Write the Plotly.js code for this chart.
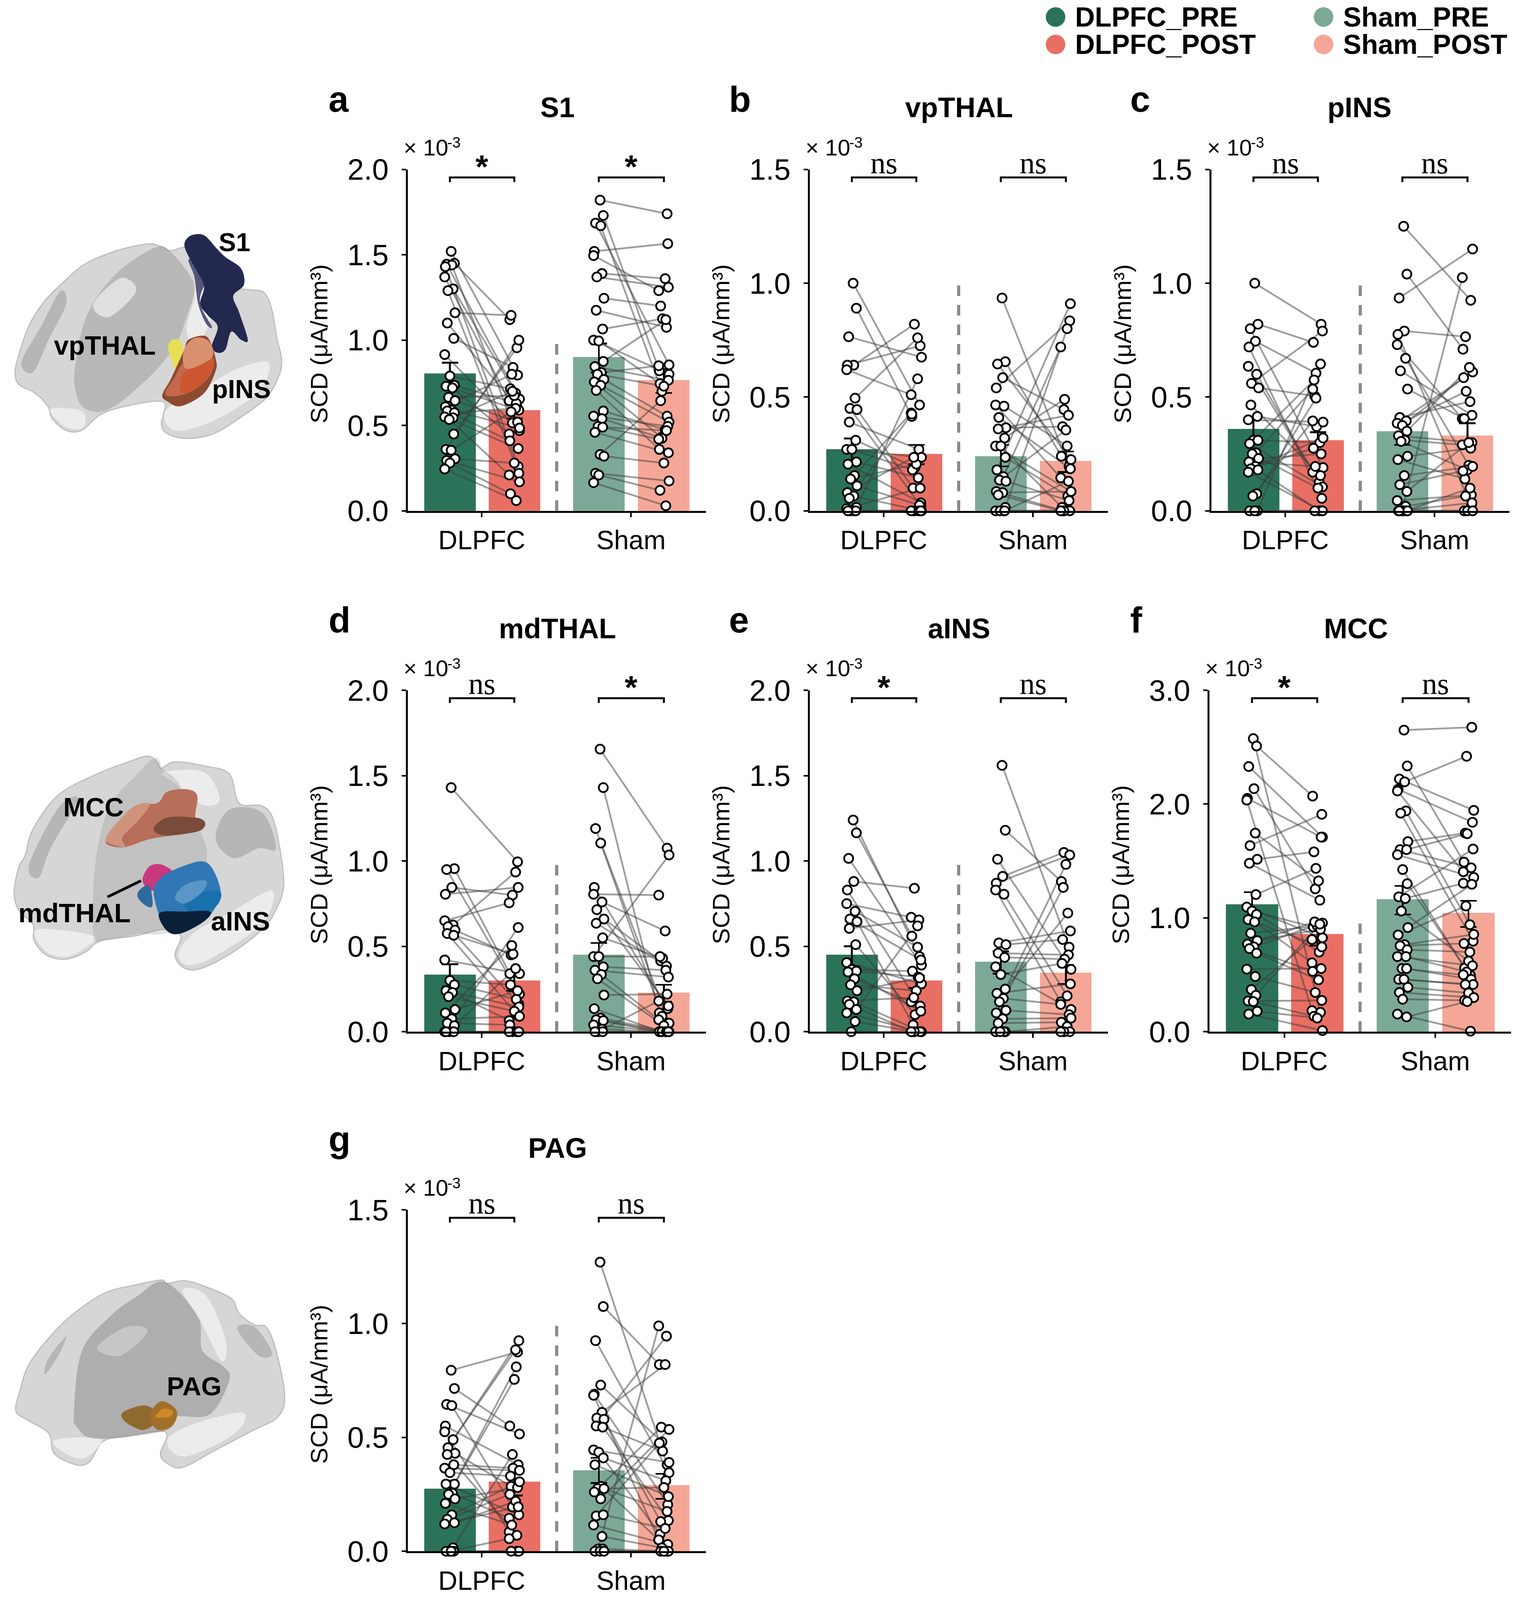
<!DOCTYPE html>
<html>
<head>
<meta charset="utf-8">
<script src="https://cdn.plot.ly/plotly-3.0.1.min.js"></script>
<style>html,body{margin:0;background:#fff;overflow:hidden}</style>
</head>
<body>
<div id="fig"></div>
<script>
// ---- panel labels ----
const panelIds = ['a', 'b', 'c', 'd', 'e', 'f', 'g'];
const panelTitles = ['S1', 'vpTHAL', 'pINS', 'mdTHAL', 'aINS', 'MCC', 'PAG'];
const panelYMax = [2, 1.5, 1.5, 2, 2, 3, 1.5];
const panelDtick = [0.5, 0.5, 0.5, 0.5, 0.5, 1, 0.5];
const sigDlpfc = ['*', 'ns', 'ns', 'ns', '*', '*', 'ns'];
const sigSham = ['*', 'ns', 'ns', '*', 'ns', 'ns', 'ns'];
const groupLabels = ['DLPFC', 'Sham'];
const legendLabels = ['DLPFC_PRE', 'DLPFC_POST', 'Sham_PRE', 'Sham_POST'];
const barColors = ['#2B7358', '#E96F65', '#7CA996', '#F5A797'];

// ---- bar heights, order: DLPFC pre, DLPFC post, Sham pre, Sham post ----
const means = [
  [0.805, 0.59, 0.90, 0.765],
  [0.27, 0.25, 0.24, 0.22],
  [0.36, 0.31, 0.35, 0.33],
  [0.335, 0.30, 0.45, 0.23],
  [0.45, 0.30, 0.41, 0.345],
  [1.12, 0.86, 1.165, 1.045],
  [0.275, 0.305, 0.355, 0.29]
];
const errTop = [
  [0.868, 0.64, 0.98, 0.83],
  [0.318, 0.29, 0.29, 0.26],
  [0.405, 0.345, 0.405, 0.385],
  [0.395, 0.35, 0.52, 0.275],
  [0.50, 0.33, 0.47, 0.39],
  [1.225, 0.945, 1.28, 1.15],
  [0.31, 0.34, 0.41, 0.34]
];
const errBottom = [
  [0.74, 0.54, 0.81, 0.69],
  [0.22, 0.205, 0.195, 0.17],
  [0.31, 0.26, 0.29, 0.275],
  [0.265, 0.24, 0.37, 0.175],
  [0.385, 0.255, 0.34, 0.28],
  [1.0, 0.755, 1.03, 0.92],
  [0.225, 0.245, 0.30, 0.23]
];

// ---- subject values (x10^-3), pre and post lined up by subject ----
const a_dlpfc_pre = [1.52,1.45,1.445,1.44,1.43,1.37,1.30,1.29,1.16,1.10,1.01,.915,.79,.735,.73,.72,.665,.645,.61,.59,.585,.575,.55,.545,.535,.45,.36,.355,.305,.295,.28,.245];
const a_dlpfc_post = [.795,1.12,.655,.515,.26,.645,.69,.22,1.145,.61,.84,.47,.715,.63,.59,.45,.675,.52,.80,.485,.41,.60,.365,.70,.21,.955,1.0,.58,.28,.17,.10,.06];
const a_sham_pre = [1.82,1.73,1.685,1.67,1.52,1.495,1.39,1.37,1.245,1.175,1.065,1.0,.995,.875,.845,.81,.80,.77,.755,.735,.705,.585,.555,.54,.495,.49,.46,.33,.32,.22,.21,.165];
const a_sham_post = [1.74,.82,.855,.70,1.565,1.29,1.36,1.31,1.2,1.075,1.125,.80,.745,1.12,.765,.85,.73,.555,.43,.52,.36,.475,.495,.425,.42,.47,.34,.645,.28,.175,.12,.03];

const b_dlpfc_pre = [1.0,.89,.765,.64,.64,.62,.495,.45,.445,.39,.31,.27,.27,.215,.205,.155,.14,.11,.08,.065,.055,.015,.01,0,0,0,0];
const b_dlpfc_post = [.465,.415,.675,.82,.725,.51,.76,.02,.10,.27,.19,.235,.18,.145,.035,.43,.205,.025,.235,0,.425,.58,.10,0,0,0,0];
const b_sham_pre = [.935,.655,.645,.585,.54,.465,.46,.41,.365,.36,.32,.285,.285,.235,.18,.15,.135,.13,.085,.08,.07,.015,0,0,0,0];
const b_sham_post = [.195,.24,.225,.445,.835,.145,.285,.185,.37,.42,.49,.085,.015,.065,.91,.72,.355,.045,0,.085,0,.80,0,0,0,.13];

const c_dlpfc_pre = [1.0,.82,.80,.745,.72,.635,.60,.56,.54,.465,.415,.40,.31,.31,.295,.255,.25,.23,.215,.195,.185,.18,.17,.075,.065,0,0,0];
const c_dlpfc_post = [.82,.74,.19,.605,.055,.17,.125,.79,.505,.155,.37,.39,.575,.30,.105,.535,.10,.25,.195,.32,.275,0,0,.495,.395,.645,0,0];
const c_sham_pre = [1.25,1.04,.935,.79,.775,.73,.67,.615,.535,.41,.395,.385,.375,.35,.33,.31,.305,.24,.225,.155,.115,.085,.045,.02,0,0,0,0,0,0];
const c_sham_post = [.925,.71,1.15,.765,.02,.405,.20,.42,.405,.48,.525,.61,.585,.63,.30,.29,.18,.275,.14,.195,.175,.30,.07,.065,1.025,.10,.035,0,0,0];

const d_dlpfc_pre = [1.43,.955,.95,.845,.805,.65,.625,.615,.595,.575,.565,.42,.30,.275,.24,.23,.205,.13,.11,.075,.05,.035,0,0,0,0,0];
const d_dlpfc_post = [.995,.34,.22,.80,.845,.755,.935,.16,.45,.10,.455,.34,.275,.19,.145,.065,.12,.24,.505,.09,.04,.37,.61,0,0,0,0];
const d_sham_pre = [1.655,1.43,1.19,1.105,.845,.805,.76,.715,.66,.635,.55,.44,.44,.38,.36,.335,.31,.215,.135,.08,.07,.065,.04,.015,0,0,0];
const d_sham_post = [1.075,.11,.05,.09,.135,.80,.59,.15,.415,.385,.43,1.035,.44,.36,.32,.07,.035,.22,0,0,0,0,0,0,.18,0,0];

const e_dlpfc_pre = [1.24,1.165,1.015,.88,.83,.75,.705,.66,.645,.605,.51,.405,.365,.355,.35,.31,.275,.24,.18,.175,.16,.13,.11,.06,0];
const e_dlpfc_post = [.44,.56,.39,.84,.15,.67,.495,.42,.04,.655,.10,.28,.355,.32,.12,.175,.24,.315,.20,0,0,.62,0,0,0];
const e_sham_pre = [1.56,1.18,1.01,.91,.87,.83,.805,.52,.51,.46,.435,.38,.335,.25,.225,.195,.175,.125,.11,.075,.05,0,0,0,0];
const e_sham_post = [.495,.88,.365,1.05,1.035,.175,.21,.59,.54,.45,.425,.13,.40,.695,.28,.16,.98,.10,.845,.08,.055,.03,0,0,0];

const f_dlpfc_pre = [2.575,2.51,2.33,2.135,2.05,2.035,1.745,1.635,1.515,1.48,1.205,1.095,1.06,1.03,.985,.965,.865,.80,.77,.745,.73,.69,.55,.485,.37,.32,.27,.265,.18,.155];
const f_dlpfc_post = [.17,2.07,1.71,1.255,1.71,.185,1.325,1.91,1.58,1.155,1.435,.825,.92,.70,.745,.605,.93,.90,.965,.955,.53,.455,.555,.345,.81,.945,.275,.135,.12,.01];
const f_sham_pre = [2.65,2.335,2.22,2.195,2.13,2.115,1.94,1.92,1.67,1.60,1.60,1.555,1.425,1.30,1.185,1.17,1.06,.915,.85,.765,.755,.72,.66,.66,.555,.555,.46,.46,.39,.345,.285,.155,.13];
const f_sham_post = [2.675,1.49,1.945,2.42,1.84,1.405,.94,.795,1.745,1.44,1.74,1.355,.56,.495,1.605,1.305,.62,1.295,1.105,.855,.775,.70,.58,.525,.50,.46,.415,.415,.34,.30,.275,.005,.265];

const g_dlpfc_pre = [.795,.715,.645,.64,.55,.525,.49,.455,.43,.425,.38,.365,.345,.295,.295,.255,.25,.23,.21,.16,.14,.125,.12,.015,0,0,0,0];
const g_dlpfc_post = [.875,.55,.515,.195,.38,.085,.885,.925,.285,.07,.365,.355,.33,.81,.16,.145,.755,.28,.115,.305,.25,.22,.195,.425,.055,0,0,0];
const g_sham_pre = [1.27,1.075,.925,.73,.69,.685,.61,.585,.58,.55,.545,.445,.435,.41,.38,.285,.275,.275,.26,.23,.155,.16,.115,.065,.01,.01,0,0,0];
const g_sham_post = [.38,.82,.345,.48,.205,.05,.82,.135,.13,.945,.44,.39,.075,.31,.24,.05,.28,.175,.545,.535,.475,.10,.03,.015,.99,0,0,0,0];

const subjects = [
  [a_dlpfc_pre, a_dlpfc_post, a_sham_pre, a_sham_post],
  [b_dlpfc_pre, b_dlpfc_post, b_sham_pre, b_sham_post],
  [c_dlpfc_pre, c_dlpfc_post, c_sham_pre, c_sham_post],
  [d_dlpfc_pre, d_dlpfc_post, d_sham_pre, d_sham_post],
  [e_dlpfc_pre, e_dlpfc_post, e_sham_pre, e_sham_post],
  [f_dlpfc_pre, f_dlpfc_post, f_sham_pre, f_sham_post],
  [g_dlpfc_pre, g_dlpfc_post, g_sham_pre, g_sham_post]
];

// sideways scatter of the dots round each bar centre
const jitterPre = [.02,.07,-.05,.03,-.07,-.08,.05,-.03,.08,-.04,.06,-.08,0,.07,-.06,.04,-.02,.08,-.07,.03,-.04,.07,-.08,.05,-.01,.06,-.06,.02,.08,-.05,0,-.08,.06,.03,-.03,.05];
const jitterPost = [.05,-.07,.08,-.03,.06,-.08,.02,.07,-.05,.04,-.02,.08,-.06,.03,.07,-.08,0,.05,-.04,.08,-.07,.02,.06,-.03,-.08,.04,.07,-.05,0,.08,-.06,.03,-.02,.05,-.07,.06];

// ---- page geometry: positions are in the reference's 3896x4789 frame,
// the window may be shorter so heights are taken as fractions of the frame ----
const W = 3896, H = 4789;
const pageH = Math.min(H, window.innerHeight || H);
const axisLeft = [1044, 2073, 3101, 1044, 2073, 3096, 1044];
const axisTop = [507, 507, 507, 2066, 2066, 2066, 3621];
const axisWidth = [763, 763, 763, 763, 763, 772, 763];
const axisHeight = 1022;
const letterX = [840, 1865, 2892, 840, 1865, 2892, 840];
const titleShift = [383, 382, 379, 383, 382, 375, 383];

const barX = [1, 2, 3.31, 4.32];
const tickX = [1.495, 3.81];
const xRange = [0.348, 4.972];
const dashX = 2.657;

const px = x => x / W;
const py = y => 1 - y / H;
const SANS = 'Liberation Sans, Arial, sans-serif';

const data = [];
const shapes = [];
const annotations = [];
const layout = {
  width: W, height: pageH, autosize: false, showlegend: false,
  margin: { l: 0, r: 0, t: 0, b: 0 },
  paper_bgcolor: '#fff', plot_bgcolor: 'rgba(0,0,0,0)',
  font: { family: SANS, color: '#000' }, bargap: 0
};

function label(x, y, text, size, opts) {
  annotations.push(Object.assign({
    xref: 'paper', yref: 'paper', x: px(x), y: py(y), text, showarrow: false,
    xanchor: 'center', yanchor: 'middle', borderpad: 0,
    font: { family: SANS, size, color: '#000' }
  }, opts || {}));
}

// ---- the seven panels ----
panelIds.forEach((id, p) => {
  const n = p === 0 ? '' : String(p + 1);
  const xa = 'x' + n, ya = 'y' + n;
  const ymax = panelYMax[p];

  layout['xaxis' + n] = {
    domain: [px(axisLeft[p]), px(axisLeft[p] + axisWidth[p])], range: xRange, anchor: ya,
    tickvals: tickX, ticktext: groupLabels, ticks: 'outside', ticklen: 11, tickwidth: 4,
    tickcolor: '#000', showline: true, linecolor: '#000', linewidth: 5, showgrid: false, zeroline: false,
    tickfont: { family: SANS, size: 68, color: '#000' }, ticklabelstandoff: 1, fixedrange: true
  };
  const ticks = [];
  for (let v = 0; v <= ymax + 1e-9; v += panelDtick[p]) ticks.push(+v.toFixed(1));
  layout['yaxis' + n] = {
    domain: [py(axisTop[p] + axisHeight), py(axisTop[p])], range: [0, ymax], anchor: xa,
    tickvals: ticks, ticktext: ticks.map(v => v.toFixed(1)), ticks: 'outside', ticklen: 11, tickwidth: 4,
    tickcolor: '#000', showline: true, linecolor: '#000', linewidth: 5, showgrid: false, zeroline: false,
    tickfont: { family: SANS, size: 76, color: '#000' }, ticklabelstandoff: 18, fixedrange: true
  };

  // bars + sem whiskers
  data.push({
    type: 'bar', x: barX, y: means[p], width: 0.8, xaxis: xa, yaxis: ya,
    marker: { color: barColors, line: { width: 0 } }, hoverinfo: 'skip',
    error_y: {
      type: 'data', symmetric: false,
      array: errTop[p].map((v, i) => v - means[p][i]),
      arrayminus: errBottom[p].map((v, i) => means[p][i] - v),
      color: '#000', thickness: 4.5, width: 21
    }
  });

  // paired lines and dots
  const lineX = [], lineY = [], dotX = [], dotY = [];
  [[0, 1], [2, 3]].forEach(([a, b]) => {
    subjects[p][a].forEach((pre, i) => {
      const post = subjects[p][b][i];
      const x0 = barX[a] + jitterPre[i % jitterPre.length];
      const x1 = barX[b] + jitterPost[i % jitterPost.length];
      lineX.push(x0, x1, null);
      lineY.push(pre, post, null);
      dotX.push(x0, x1);
      dotY.push(pre, post);
    });
  });
  data.push({
    type: 'scatter', mode: 'lines', x: lineX, y: lineY, xaxis: xa, yaxis: ya, cliponaxis: false,
    line: { color: 'rgba(60,60,60,0.5)', width: 4.5 }, hoverinfo: 'skip', connectgaps: false
  });
  data.push({
    type: 'scatter', mode: 'markers', x: dotX, y: dotY, xaxis: xa, yaxis: ya, cliponaxis: false,
    marker: { size: 23, color: '#fff', line: { color: '#000', width: 4.5 } }, hoverinfo: 'skip'
  });

  // dashed divider between the two groups
  shapes.push({
    type: 'line', xref: xa, yref: ya, x0: dashX, x1: dashX, y0: 0, y1: 1,
    line: { color: '#8A8A8A', width: 8, dash: '27px,23px' }
  });

  // significance brackets
  const T = axisTop[p];
  [[barX[0], barX[1], tickX[0], sigDlpfc[p]], [barX[2], barX[3], tickX[1], sigSham[p]]].forEach(([x0, x1, xc, s]) => {
    const yTop = ymax * (1 - 24 / axisHeight), yLeg = ymax * (1 - 38 / axisHeight);
    shapes.push({
      type: 'path', xref: xa, yref: ya,
      path: `M ${x0} ${yLeg} L ${x0} ${yTop} L ${x1} ${yTop} L ${x1} ${yLeg}`,
      line: { color: '#000', width: 5 }
    });
    const ann = s === 'ns'
      ? { font: { family: 'Liberation Serif, serif', size: 78, color: '#000' } }
      : { font: { family: SANS, size: 84, color: '#000' }, text: '<b>*</b>' };
    annotations.push(Object.assign({
      xref: xa, yref: 'paper', x: xc, y: py(s === 'ns' ? T - 19 : T - 8), text: s, showarrow: false,
      xanchor: 'center', yanchor: 'middle'
    }, ann));
  });

  // text round the axes
  label(letterX[p], T - 210, '<b>' + id + '</b>', 92, { xanchor: 'left' });
  label(axisLeft[p] + titleShift[p], T - 185, '<b>' + panelTitles[p] + '</b>', 72);
  label(axisLeft[p] - 12, T - 66, '× 10', 58, { xanchor: 'left' });
  label(axisLeft[p] + 100, T - 80, '-3', 38, { xanchor: 'left' });
  label(axisLeft[p] - 228, T + 522, 'SCD (μA/mm³)', 62, { textangle: -90 });
});

// ---- legend ----
[[2702, 51, 0], [2702, 133, 1], [3388, 51, 2], [3388, 133, 3]].forEach(([cx, cy, i]) => {
  const ry = 25 * H / pageH;
  shapes.push({
    type: 'circle', xref: 'paper', yref: 'paper',
    x0: px(cx - 25), x1: px(cx + 25), y0: py(cy + ry), y1: py(cy - ry),
    fillcolor: barColors[i], line: { width: 0 }
  });
  label(cx + 49, cy, '<b>' + legendLabels[i] + '</b>', 70, { xanchor: 'left' });
});

// ---- brain sketches: closed smooth blobs ----
function blob(pts, fill, sy, y0, stroke) {
  const q = pts.map(([x, y]) => [px(x / 2.01), py(y0 + y / sy)]);
  const n = q.length;
  let d = `M ${q[0][0]} ${q[0][1]}`;
  for (let i = 0; i < n; i++) {
    const a = q[(i - 1 + n) % n], b = q[i], c = q[(i + 1) % n], e = q[(i + 2) % n];
    d += ` C ${b[0] + (c[0] - a[0]) / 6} ${b[1] + (c[1] - a[1]) / 6} ${c[0] - (e[0] - b[0]) / 6} ${c[1] - (e[1] - b[1]) / 6} ${c[0]} ${c[1]}`;
  }
  shapes.push({ type: 'path', xref: 'paper', yref: 'paper', path: d + ' Z', fillcolor: fill, line: { width: stroke ? 3 : 0, color: stroke || 'rgba(0,0,0,0)' } });
}
const GREY = '#D6D6D6', SHADE = 'rgba(120,120,120,0.32)', LIGHT = 'rgba(255,255,255,0.55)', FOLD = 'rgba(100,100,100,0.28)';

// top brain
const SA = 2.063, YA = 600;
blob([[245,1270],[180,1190],[100,1140],[78,1080],[90,980],[150,770],[230,620],[330,500],[440,390],[600,310],[760,268],[830,285],[880,310],[950,290],[1000,350],[1030,500],[1150,540],[1280,550],[1360,570],[1400,680],[1425,850],[1450,990],[1430,1100],[1370,1220],[1250,1330],[1100,1440],[960,1470],[860,1440],[830,1380],[850,1260],[800,1240],[650,1270],[520,1320],[420,1420],[340,1420],[270,1350]], GREY, SA, YA, 'rgba(150,150,150,0.5)');
blob([[850,1300],[1000,1200],[1200,1050],[1380,1000],[1330,1180],[1100,1360],[900,1420]], LIGHT, SA, YA);
blob([[260,1290],[420,1300],[430,1400],[340,1400]], LIGHT, SA, YA);
blob([[1010,420],[1120,560],[1020,900],[960,800],[1000,600]], LIGHT, SA, YA);
blob([[390,1000],[450,700],[600,450],[800,290],[880,320],[980,470],[1000,560],[960,720],[900,900],[760,1100],[560,1290],[430,1280],[385,1150]], SHADE, SA, YA);
blob([[110,1000],[210,780],[310,560],[340,640],[250,860],[170,1060]], FOLD, SA, YA);
blob([[480,640],[620,480],[700,560],[560,720]], LIGHT, SA, YA);
blob([[975,360],[1120,430],[1050,530],[1030,640],[1090,780],[1060,760],[1020,640],[1000,470]], '#55577A', SA, YA);
blob([[950,260],[985,215],[1050,215],[1110,290],[1160,350],[1240,420],[1255,520],[1200,590],[1230,690],[1275,860],[1240,860],[1190,810],[1160,920],[1120,940],[1090,900],[1120,780],[1070,710],[1030,640],[1050,530],[1010,430],[960,320]], '#23284F', SA, YA);
blob([[865,900],[890,858],[930,870],[945,930],[935,1010],[905,1040],[880,980]], '#E6DF55', SA, YA);
blob([[835,1200],[880,1100],[945,930],[970,860],[1050,835],[1085,880],[1110,980],[1110,1050],[1050,1190],[930,1270],[860,1240]], '#8C4A30', SA, YA);
blob([[850,1190],[900,1090],[950,1000],[1090,970],[1085,1070],[1000,1170],[900,1210]], '#C1694A', SA, YA);
blob([[930,1180],[950,1060],[1090,985],[1080,1070],[1000,1170]], '#CC5630', SA, YA);
blob([[945,930],[1000,850],[1075,870],[1090,970],[960,1040]], '#D9916F', SA, YA);
label(600, 725, '<b>S1</b>', 66);
label(268, 1034, '<b>vpTHAL</b>', 68);
label(618, 1165, '<b>pINS</b>', 66);

// middle brain
const SB = 2.063, YB = 2200;
blob([[170,1170],[100,1090],[72,980],[95,820],[130,740],[170,580],[300,370],[500,240],[650,170],[760,130],[810,170],[830,205],[900,165],[1050,190],[1180,240],[1230,420],[1340,435],[1400,500],[1440,700],[1460,930],[1420,1080],[1350,1200],[1200,1340],[1040,1440],[950,1440],[900,1360],[930,1240],[840,1200],[700,1240],[520,1270],[440,1340],[340,1385],[240,1360],[175,1270]], GREY, SB, YB, 'rgba(150,150,150,0.5)');
blob([[920,1340],[1010,1210],[1180,1100],[1400,960],[1350,1160],[1100,1370],[960,1420]], LIGHT, SB, YB);
blob([[190,1200],[480,1240],[430,1320],[330,1370],[230,1330]], LIGHT, SB, YB);
blob([[840,230],[1050,230],[1130,400],[1040,430],[900,300]], LIGHT, SB, YB);
blob([[480,1230],[490,800],[560,450],[700,250],[800,140],[840,210],[920,300],[1020,560],[1060,800],[900,1190],[700,1230],[540,1270]], 'rgba(120,120,120,0.22)', SB, YB);
blob([[150,800],[300,450],[400,400],[260,700],[200,880]], FOLD, SB, YB);
blob([[1110,640],[1180,460],[1350,480],[1420,700],[1330,700],[1200,760]], FOLD, SB, YB);
blob([[545,650],[600,545],[700,435],[810,420],[860,350],[960,335],[1015,375],[1005,510],[1050,530],[1050,570],[1000,600],[780,640],[650,690],[570,685]], '#B86E58', SB, YB);
blob([[790,580],[860,510],[1000,510],[1050,530],[1050,570],[1000,600],[850,620]], '#7A4B3A', SB, YB);
blob([[545,650],[600,545],[700,435],[770,430],[710,530],[630,630],[640,690]], '#CF937D', SB, YB);
blob([[735,880],[770,810],[830,800],[890,850],[820,900],[790,960],[745,930]], '#C8387F', SB, YB);
blob([[710,970],[750,930],[775,950],[785,1050],[760,1060],[715,1015]], '#2F6A9E', SB, YB);
blob([[790,960],[830,880],[900,830],[1030,780],[1090,820],[1135,960],[1110,1060],[1050,1150],[930,1225],[860,1210],[820,1120]], '#2F78B5', SB, YB);
blob([[950,1040],[1040,970],[1135,970],[1110,1060],[1000,1110]], '#1A70AD', SB, YB);
blob([[820,1100],[950,1090],[1080,1090],[1050,1150],[930,1225],[860,1210]], '#0A1F38', SB, YB);
blob([[900,1000],[960,920],[1060,900],[1040,970],[950,1040]], '#5A96C6', SB, YB);
shapes.push({ type: 'line', xref: 'paper', yref: 'paper', x0: px(361), y0: py(2636), x1: px(275), y1: py(2685), line: { color: '#000', width: 7 } });
label(239, 2416, '<b>MCC</b>', 68);
label(190, 2733, '<b>mdTHAL</b>', 69);
label(615, 2757, '<b>aINS</b>', 68);

// bottom brain
const SC = 2.45, YC = 3780;
blob([[250,1250],[150,1160],[82,1090],[100,950],[150,740],[270,520],[380,370],[540,220],[700,160],[830,125],[860,150],[950,130],[1050,170],[1190,260],[1230,370],[1310,455],[1370,470],[1420,640],[1465,970],[1430,1130],[1300,1230],[1100,1380],[940,1500],[860,1470],[825,1400],[850,1240],[640,1275],[530,1310],[460,1460],[390,1480],[280,1400]], GREY, SC, YC, 'rgba(150,150,150,0.5)');
blob([[860,1300],[1000,1180],[1250,1100],[1200,1260],[950,1420]], LIGHT, SC, YC);
blob([[280,1300],[520,1290],[440,1430],[340,1400]], LIGHT, SC, YC);
blob([[940,200],[1060,240],[1160,560],[1140,720],[1030,420]], LIGHT, SC, YC);
blob([[380,1100],[420,650],[560,400],[700,250],[850,140],[1020,400],[1040,640],[1150,760],[1180,860],[1080,1110],[900,1130],[850,1230],[500,1290],[400,1210]], 'rgba(115,115,115,0.4)', SC, YC);
blob([[500,620],[650,470],[760,500],[620,680]], 'rgba(255,255,255,0.3)', SC, YC);
blob([[230,820],[250,700],[340,540],[300,680]], FOLD, SC, YC);
blob([[1220,480],[1310,470],[1400,660],[1330,680]], FOLD, SC, YC);
blob([[625,1110],[660,1075],[740,1045],[790,1080],[790,1180],[740,1225],[690,1205],[640,1160]], '#8F6A2E', SC, YC);
blob([[790,1060],[830,1015],[880,1040],[912,1100],[890,1190],[830,1228],[790,1200],[770,1130]], '#A0702A', SC, YC);
blob([[800,1130],[840,1070],[890,1090],[870,1130]], '#D08A28', SC, YC);
label(497, 4149, '<b>PAG</b>', 67);

layout.shapes = shapes;
layout.annotations = annotations;
Plotly.newPlot('fig', data, layout, { staticPlot: true, displayModeBar: false });
</script>
</body>
</html>
